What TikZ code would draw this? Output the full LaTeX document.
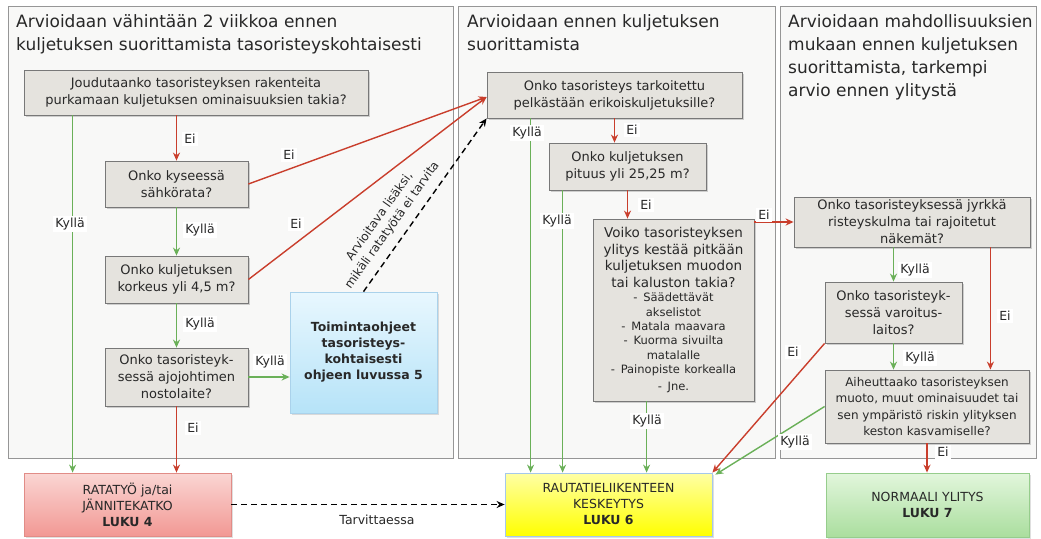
\documentclass[tikz,border=0pt]{standalone}
\usepackage{fontspec}
\setmainfont{DejaVu Sans}
\usepackage{tikz}
\usetikzlibrary{arrows.meta, shadows}

\definecolor{panelFill}{RGB}{248,248,247}
\definecolor{panelLine}{RGB}{150,150,150}
\definecolor{boxFill}{RGB}{229,227,222}
\definecolor{boxLine}{RGB}{120,120,120}
\definecolor{noRed}{RGB}{201,62,44}
\definecolor{yesGreen}{RGB}{106,176,88}
\definecolor{txtGray}{RGB}{40,40,40}
\definecolor{ohjeTop}{RGB}{232,247,254}
\definecolor{ohjeBot}{RGB}{182,227,248}
\definecolor{ohjeLine}{RGB}{170,210,235}
\definecolor{rataTop}{RGB}{250,214,211}
\definecolor{rataBot}{RGB}{242,152,148}
\definecolor{rataLine}{RGB}{225,140,135}
\definecolor{keskTop}{RGB}{255,255,165}
\definecolor{keskBot}{RGB}{255,255,0}
\definecolor{keskLine}{RGB}{165,200,235}
\definecolor{normTop}{RGB}{226,246,220}
\definecolor{normBot}{RGB}{170,222,158}
\definecolor{normLine}{RGB}{150,205,140}

\tikzset{
  panel/.style={draw=panelLine, fill=panelFill, line width=0.8pt},
  paneltitle/.style={anchor=north west, inner sep=0pt, align=left, text=txtGray,
    font=\fontsize{17}{23}\selectfont},
  qbox/.style={draw=boxLine, fill=boxFill, line width=0.8pt, align=center, inner sep=1pt,
    text=txtGray, font=\fontsize{13}{17}\selectfont,
    drop shadow={shadow xshift=1.5pt, shadow yshift=-1.5pt, opacity=0.35}},
  endbox/.style={line width=0.8pt, align=center, inner sep=1pt, text=txtGray,
    font=\fontsize{12.5}{16}\selectfont,
    drop shadow={shadow xshift=1.5pt, shadow yshift=-1.5pt, opacity=0.25}},
  lbl/.style={fill=white, inner sep=2pt, text=txtGray, font=\fontsize{12.5}{14}\selectfont},
  no/.style={draw=noRed, line width=1.4pt, -{Stealth[length=8pt, width=7pt]}},
  yes/.style={draw=yesGreen, line width=1.4pt, -{Stealth[length=8pt, width=7pt]}},
  maybe/.style={draw=black, line width=1.4pt, dash pattern=on 6pt off 4pt,
    -{Stealth[length=8pt, width=7pt]}},
}

\begin{document}
\begin{tikzpicture}[x=1pt,y=1pt,yscale=-1]
\useasboundingbox (0,0) rectangle (1041,538);

% Panels
\draw[panel] (8,6) rectangle (453,458);
\draw[panel] (458,6) rectangle (775,458);
\draw[panel] (780,6) rectangle (1036,458);

% Panel titles
\node[paneltitle] (t1) at (16,14.5) {Arvioidaan vähintään 2 viikkoa ennen\\kuljetuksen suorittamista tasoristeyskohtaisesti};
\node[paneltitle] (t2) at (467,14.5) {Arvioidaan ennen kuljetuksen\\suorittamista};
\node[paneltitle] (t3) at (788,14.5) {Arvioidaan mahdollisuuksien\\mukaan ennen kuljetuksen\\suorittamista, tarkempi\\arvio ennen ylitystä};

% Questions, panel 1
\node[qbox, minimum width=344pt, minimum height=45pt] (b1) at (196,92.5) {Joudutaanko tasoristeyksen rakenteita\\purkamaan kuljetuksen ominaisuuksien takia?};
\node[qbox, minimum width=143pt, minimum height=46pt] (b2) at (176.5,184) {Onko kyseessä\\sähkörata?};
\node[qbox, minimum width=143pt, minimum height=47pt] (b3) at (176.5,279.5) {Onko kuljetuksen\\korkeus yli 4,5 m?};
\node[qbox, minimum width=143pt, minimum height=58pt] (b4) at (176.5,377) {Onko tasoristeyk-\\sessä ajojohtimen\\nostolaite?};
\node[endbox, draw=ohjeLine, top color=ohjeTop, bottom color=ohjeBot, minimum width=147pt, minimum height=121pt,
  font=\bfseries\fontsize{12.5}{16}\selectfont] (ohje) at (363.5,352.5) {Toimintaohjeet\\tasoristeys-\\kohtaisesti\\ohjeen luvussa 5};

% Questions, panel 2
\node[qbox, minimum width=255pt, minimum height=46pt] (c1) at (614.5,95) {Onko tasoristeys tarkoitettu\\pelkästään erikoiskuljetuksille?};
\node[qbox, minimum width=157pt, minimum height=47pt] (c2) at (627.5,166.5) {Onko kuljetuksen\\pituus yli 25,25 m?};
\node[qbox, minimum width=161pt, minimum height=182pt, text width=157pt, font=\fontsize{13.5}{16.5}\selectfont] (c3) at (673.5,310)
  {Voiko tasoristeyksen\\ylitys kestää pitkään\\kuljetuksen muodon\\tai kaluston takia?\par
   \fontsize{11.5}{14.4}\selectfont
   -\enspace Säädettävät\\akselistot\\-\enspace Matala maavara\\-\enspace Kuorma sivuilta\\matalalle\\-\enspace Painopiste korkealla\\-\enspace Jne.};

% Questions, panel 3
\node[qbox, minimum width=236pt, minimum height=50pt] (d1) at (912,222) {Onko tasoristeyksessä jyrkkä\\risteyskulma tai rajoitetut\\näkemät?};
\node[qbox, minimum width=137pt, minimum height=61pt] (d2) at (893.5,312.5) {Onko tasoristeyk-\\sessä varoitus-\\laitos?};
\node[qbox, minimum width=204pt, minimum height=73pt, font=\fontsize{12}{16.6}\selectfont] (d3) at (927,406.5) {Aiheuttaako tasoristeyksen\\muoto, muut ominaisuudet tai\\sen ympäristö riskin ylityksen\\keston kasvamiselle?};

% Outcomes
\node[endbox, draw=rataLine, top color=rataTop, bottom color=rataBot, minimum width=207pt, minimum height=63pt] (rata) at (127.5,504.5) {RATATYÖ ja/tai\\JÄNNITEKATKO\\\textbf{LUKU 4}};
\node[endbox, draw=keskLine, top color=keskTop, bottom color=keskBot, minimum width=207pt, minimum height=63pt] (kesk) at (608.5,504.5) {RAUTATIELIIKENTEEN\\KESKEYTYS\\\textbf{LUKU 6}};
\node[endbox, draw=normLine, top color=normTop, bottom color=normBot, minimum width=203pt, minimum height=64pt] (norm) at (927.5,505) {NORMAALI YLITYS\\\textbf{LUKU 7}};

% Connectors, panel 1
\draw[yes] ([xshift=49pt]b1.south west) -- ([xshift=49pt]rata.north west);
\draw[no] (b1.south -| b2.north) -- (b2.north);
\draw[yes] (b2.south) -- (b3.north);
\draw[yes] (b3.south) -- (b4.north);
\draw[yes] (b4.east) -- (b4.east -| ohje.west);
\draw[no] (b4.south) -- (b4.south |- rata.north);
\draw[no] (b2.east) -- ([yshift=2pt]c1.west);
\draw[no] (b3.east) -- ([yshift=2pt]c1.west);
\draw[maybe] (ohje.north) -- (c1.south west);
\draw[maybe] (rata.east) -- (kesk.west);

% Connectors, panel 2
\draw[yes] ([xshift=44pt]c1.south west) -- ([xshift=44pt]c1.south west |- kesk.north);
\draw[no] (c1.south) -- (c1.south |- c2.north);
\draw[yes] ([xshift=14pt]c2.south west) -- ([xshift=14pt]c2.south west |- kesk.north);
\draw[no] (c2.south) -- (c2.south |- c3.north);
\draw[yes] ([xshift=54pt]c3.south west) -- ([xshift=54pt]c3.south west |- kesk.north);
\draw[no] (c3.east |- d1.west) -- (d1.west);

% Connectors, panel 3
\draw[yes] (d1.south -| d2.north) -- (d2.north);
\draw[no] ([xshift=-40pt]d1.south east) -- ([xshift=-40pt]d1.south east |- d3.north);
\draw[yes] (d2.south) -- (d2.south |- d3.north);
\draw[no] (d3.south) -- (d3.south |- norm.north);
\draw[no] (d2.south west) -- (kesk.north east);
\draw[yes] (d3.west) -- ([xshift=3pt,yshift=2pt]kesk.north east);

% Labels
\node[lbl] (l1) at (190,139) {Ei};
\node[lbl] (l2) at (70,224) {Kyllä};
\node[lbl] (l3) at (200,230) {Kyllä};
\node[lbl] (l4) at (200,324) {Kyllä};
\node[lbl] (l5) at (270,362) {Kyllä};
\node[lbl] (l6) at (193,428) {Ei};
\node[lbl] (l7) at (289,155) {Ei};
\node[lbl] (l8) at (296,224) {Ei};
\node[lbl] (l9) at (377,520) {Tarvittaessa};
\node[lbl] (l10) at (527,133) {Kyllä};
\node[lbl] (l11) at (632,130) {Ei};
\node[lbl] (l12) at (557,221) {Kyllä};
\node[lbl] (l13) at (646,205) {Ei};
\node[lbl] (l14) at (764,215) {Ei};
\node[lbl] (l15) at (647,421) {Kyllä};
\node[lbl] (l16) at (915,270) {Kyllä};
\node[lbl] (l17) at (1005,316) {Ei};
\node[lbl] (l18) at (920,358) {Kyllä};
\node[lbl] (l19) at (943,452) {Ei};
\node[lbl] (l20) at (793,352) {Ei};
\node[lbl] (l21) at (795,442) {Kyllä};

% Rotated note on the dashed connector
\node[rotate=54.5, align=center, inner sep=0pt, text=txtGray, font=\fontsize{12}{15.5}\selectfont] (note) at (386,221) {Arvioitava lisäksi,\\mikäli ratatyötä ei tarvita};
\end{tikzpicture}
\end{document}
